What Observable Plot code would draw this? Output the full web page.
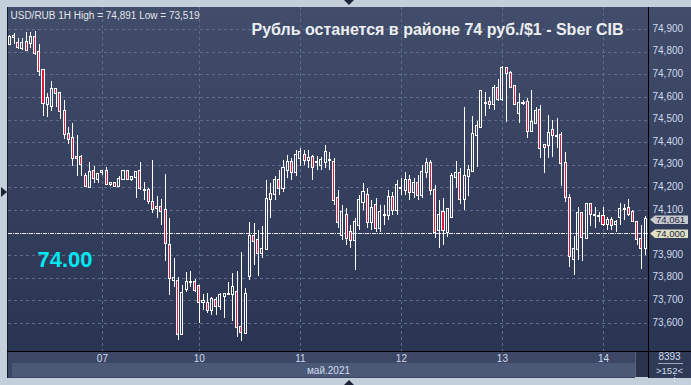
<!DOCTYPE html>
<html><head><meta charset="utf-8">
<script src="https://cdn.jsdelivr.net/npm/d3@7"></script>
<script src="https://cdn.jsdelivr.net/npm/@observablehq/plot@0.6"></script>
<style>
html,body{margin:0;padding:0;background:#c4cfdc;}
#wrap{position:relative;width:691px;height:385px;overflow:hidden;font-family:"Liberation Sans",Arial,sans-serif;}
#wrap .p{position:absolute;}
#chart{position:absolute;left:0;top:0;}
.tri{position:absolute;width:0;height:0;}
</style></head><body>
<div id="wrap">
  <div class="p" style="left:8px;top:7px;width:640px;height:344px;background:linear-gradient(to bottom,#414d6a,#2a3453);"></div>
  <div class="p" style="left:649px;top:7px;width:42px;height:344px;background:linear-gradient(to bottom,#414d6a,#2a3453);"></div>
  <div class="p" style="left:8px;top:352px;width:627px;height:26px;background:#3b4764;"></div>
  <div class="p" style="left:12px;top:363px;width:623px;height:14px;background:#4b5977;"></div>
  <div class="p" style="left:635px;top:352px;width:13px;height:25px;background:#2a344f;border-left:1px solid #56627c;box-sizing:border-box;"></div>
  <div class="p" style="left:649px;top:352px;width:42px;height:26px;background:#2f3a56;"></div>
  <div class="p" style="left:658px;top:363px;width:25px;height:1px;background:#9aa6bc;"></div>
  <div class="p" style="left:7px;top:7px;width:1px;height:371px;background:#161d2c;"></div>
  <div class="p" style="left:648px;top:7px;width:1px;height:371px;background:#000;"></div>
  <div class="p" style="left:7px;top:351px;width:684px;height:1px;background:#000;"></div>
  <div class="tri" style="left:344px;top:0px;border-left:5px solid transparent;border-right:5px solid transparent;border-top:5px solid #1c2538;"></div>
  <div class="tri" style="left:344px;top:380px;border-left:5px solid transparent;border-right:5px solid transparent;border-bottom:5px solid #1c2538;"></div>
  <div class="tri" style="left:1px;top:187px;border-top:5px solid transparent;border-bottom:5px solid transparent;border-left:6px solid #1c2538;"></div>
  <div id="chart"></div>
</div>
<script>
const open = [
74.834,74.867,74.837,74.816,74.842,74.840,74.864,74.797,74.719,74.569,
74.561,74.634,74.616,74.538,74.435,74.417,74.334,74.334,74.250,74.203,
74.273,74.238,74.268,74.272,74.216,74.220,74.206,74.235,74.272,74.235,
74.244,74.272,74.190,74.188,74.136,74.112,74.114,74.100,73.945,73.790,
73.785,73.550,73.749,73.779,73.780,73.763,73.694,73.689,73.657,73.701,
73.676,73.720,73.726,73.727,73.735,73.580,73.557,73.808,73.985,73.967,
73.908,73.926,74.147,74.170,74.232,74.197,74.277,74.312,74.268,74.330,
74.343,74.321,74.334,74.310,74.299,74.312,74.322,74.312,74.153,73.989,
74.077,74.002,73.967,74.033,74.135,74.166,74.046,74.122,74.020,74.078,
74.077,74.157,74.100,74.198,74.188,74.232,74.179,74.219,74.166,74.268,
74.308,74.188,74.011,74.089,74.004,74.070,74.247,74.262,74.147,74.250,
74.273,74.431,74.465,74.573,74.579,74.567,74.638,74.589,74.727,74.707,
74.648,74.530,74.574,74.576,74.450,74.486,74.542,74.387,74.387,74.454,
74.427,74.431,74.306,74.151,73.883,73.926,74.088,73.974,74.125,74.078,
74.075,74.074,74.036,74.055,74.036,74.067,74.103,74.107,74.089,74.048,
73.970,73.930];
const high = [
74.874,74.881,74.859,74.859,74.886,74.887,74.891,74.834,74.719,74.616,
74.670,74.634,74.618,74.586,74.465,74.483,74.431,74.343,74.262,74.313,
74.294,74.259,74.274,74.291,74.225,74.222,74.251,74.275,74.275,74.246,
74.273,74.311,74.222,74.197,74.321,74.161,74.148,74.259,74.063,73.886,
73.804,73.768,73.824,73.830,73.793,73.765,73.728,73.731,73.716,73.716,
73.731,73.734,73.780,73.822,73.830,73.912,73.756,74.048,74.043,74.011,
74.029,74.232,74.218,74.250,74.277,74.321,74.343,74.330,74.365,74.374,
74.365,74.365,74.343,74.338,74.334,74.387,74.356,74.330,74.188,74.122,
74.108,74.033,74.064,74.166,74.219,74.197,74.144,74.153,74.122,74.122,
74.188,74.179,74.232,74.241,74.268,74.254,74.241,74.254,74.299,74.330,
74.321,74.210,74.144,74.151,74.103,74.262,74.316,74.284,74.554,74.299,
74.515,74.495,74.631,74.623,74.601,74.653,74.678,74.738,74.734,74.716,
74.648,74.616,74.586,74.594,74.631,74.554,74.564,74.387,74.520,74.498,
74.505,74.446,74.357,74.170,73.985,74.114,74.092,74.132,74.125,74.114,
74.092,74.114,74.070,74.067,74.055,74.129,74.126,74.148,74.100,74.048,
74.033,74.073];
const low = [
74.830,74.834,74.812,74.807,74.804,74.816,74.787,74.694,74.517,74.512,
74.539,74.554,74.502,74.414,74.390,74.296,74.251,74.251,74.203,74.198,
74.220,74.218,74.254,74.210,74.205,74.204,74.205,74.233,74.232,74.228,
74.151,74.188,74.144,74.126,74.086,74.063,74.033,73.875,73.723,73.758,
73.524,73.548,73.738,73.760,73.738,73.601,73.657,73.642,73.635,73.635,
73.657,73.620,73.725,73.608,73.539,73.519,73.557,73.790,73.856,73.808,
73.886,73.926,74.063,74.144,74.166,74.179,74.241,74.232,74.250,74.294,
74.299,74.285,74.232,74.277,74.277,74.285,74.277,74.122,74.020,73.967,
73.945,73.931,73.834,74.011,74.100,74.020,74.011,74.002,74.002,74.033,
74.055,74.077,74.077,74.166,74.166,74.144,74.153,74.144,74.153,74.241,
74.166,73.976,73.931,73.945,73.981,74.066,74.198,74.126,74.100,74.163,
74.269,74.291,74.461,74.517,74.546,74.542,74.583,74.583,74.490,74.638,
74.564,74.486,74.564,74.417,74.446,74.486,74.328,74.262,74.328,74.335,
74.372,74.206,74.136,73.849,73.812,73.878,73.875,73.970,74.029,74.018,
74.048,74.029,74.011,74.011,74.004,74.033,74.055,74.074,74.045,73.945,
73.837,73.900];
const close = [
74.867,74.870,74.819,74.837,74.807,74.864,74.793,74.716,74.572,74.594,
74.634,74.616,74.538,74.435,74.412,74.328,74.328,74.302,74.207,74.269,
74.240,74.259,74.270,74.215,74.219,74.206,74.235,74.272,74.235,74.244,
74.268,74.196,74.188,74.139,74.104,74.108,74.096,73.955,73.797,73.800,
73.550,73.731,73.780,73.781,73.746,73.694,73.697,73.657,73.706,73.676,
73.723,73.728,73.727,73.761,73.583,73.561,73.728,73.985,73.962,73.908,
73.927,74.147,74.169,74.232,74.197,74.285,74.312,74.268,74.343,74.356,
74.321,74.330,74.290,74.312,74.321,74.356,74.320,74.144,74.046,74.091,
73.976,73.967,74.046,74.144,74.179,74.046,74.108,74.020,74.091,74.076,
74.157,74.100,74.210,74.196,74.232,74.179,74.219,74.166,74.268,74.308,
74.188,74.002,74.077,74.011,74.103,74.250,74.262,74.147,74.250,74.277,
74.436,74.471,74.626,74.575,74.569,74.641,74.589,74.727,74.707,74.645,
74.567,74.572,74.575,74.450,74.490,74.538,74.375,74.377,74.439,74.431,
74.429,74.306,74.156,73.897,73.926,74.088,73.981,74.125,74.082,74.076,
74.074,74.036,74.055,74.033,74.045,74.103,74.104,74.082,74.051,73.970,
73.933,74.061];

const dayTicks = [22, 45, 69, 93, 117, 141];
const dayLabels = ["07", "10", "11", "12", "13", "14"];
const yTicks = [73.6, 73.7, 73.8, 73.9, 74.0, 74.1, 74.2, 74.3, 74.4, 74.5, 74.6, 74.7, 74.8, 74.9];
const levelValue = 74.0;
const lastValue = close[close.length - 1];
const headerText = "USD/RUB 1H High = 74,891 Low = 73,519";
const titleText = "Рубль останется в районе 74 руб./$1 - Sber CIB";
const levelText = "74.00";
const monthText = "май.2021";
const barsText = "8393";
const visibleText = ">152<";

const candles = open.map((o, i) => ({i, open: o, high: high[i], low: low[i], close: close[i]}));
const bear = candles.filter(d => d.close < d.open);
const bull = candles.filter(d => d.close >= d.open);
const fmt = v => d3.format(".3f")(v).replace(".", ",");
// the level's own label sits in its box, so the axis skips it
const axisLabelTicks = yTicks.filter(t => Math.abs(t - levelValue) > 1e-9);

const RED = "#dc1a3c", WHITE = "#ffffff", GRID = "#5f6d8c", LABEL = "#cfdaee";

function priceBoxes(index, scales, values, dims) {
  const g = d3.create("svg:g");
  const x0 = dims.width - dims.marginRight;
  [{v: lastValue, fill: "#c5c9cf"}, {v: levelValue, fill: "#dedfc3"}].forEach(b => {
    const y = Math.round(scales.y(b.v)) + 0.5;
    g.append("path")
      .attr("d", `M${x0 + 2},${y} L${x0 + 7},${y - 4} H${x0 + 40} V${y + 4.5} H${x0 + 7} Z`)
      .attr("fill", b.fill);
    g.append("text").attr("x", x0 + 8).attr("y", y).attr("dy", "0.35em")
      .attr("fill", "#1d2740").attr("font-size", 9.5).attr("text-anchor", "start")
      .text(fmt(b.v));
  });
  return g.node();
}

const chart = Plot.plot({
  width: 691, height: 385,
  marginTop: 7, marginRight: 43, marginBottom: 34, marginLeft: 8,
  style: {background: "transparent", fontFamily: "Liberation Sans, Arial, sans-serif", overflow: "visible"},
  x: {type: "linear", domain: [-0.31, 151.69]},
  y: {type: "linear", domain: [73.4757, 74.9978]},
  marks: [
    Plot.ruleY(yTicks, {stroke: GRID, strokeDasharray: "3,3", shapeRendering: "crispEdges"}),
    Plot.ruleX(dayTicks, {stroke: GRID, strokeDasharray: "3,3", shapeRendering: "crispEdges"}),
    Plot.ruleY([levelValue], {stroke: "#e6e6e6", strokeDasharray: "4,1,1,1", shapeRendering: "crispEdges"}),
    Plot.ruleX(candles, {x: "i", y1: "high", y2: d => Math.max(d.open, d.close), stroke: WHITE, shapeRendering: "crispEdges"}),
    Plot.ruleX(candles, {x: "i", y1: d => Math.min(d.open, d.close), y2: "low", stroke: WHITE, shapeRendering: "crispEdges"}),
    Plot.rect(bear, {x1: d => d.i - 0.24, x2: d => d.i + 0.24, y1: "open", y2: "close", fill: RED, stroke: WHITE, insetTop: -0.5, insetBottom: -0.5, shapeRendering: "crispEdges"}),
    Plot.rect(bull, {x1: d => d.i - 0.24, x2: d => d.i + 0.24, y1: "open", y2: "close", fill: "none", stroke: WHITE, insetTop: -0.5, insetBottom: -0.5, shapeRendering: "crispEdges"}),
    Plot.axisY({anchor: "right", ticks: axisLabelTicks, tickFormat: fmt, tickSize: 0, tickPadding: 4, fill: LABEL, fontSize: 10, textAnchor: "start", dy: -1}),
    Plot.axisX({anchor: "bottom", ticks: dayTicks, tickFormat: d => dayLabels[dayTicks.indexOf(d)], tickSize: 0, tickPadding: 3, fill: LABEL, fontSize: 10}),
    priceBoxes,
    Plot.text([headerText], {frameAnchor: "top-left", dx: 2, dy: 8, textAnchor: "start", lineAnchor: "middle", fill: "#e4e6ea", fontSize: 10}),
    Plot.text([titleText], {frameAnchor: "top-right", dx: -25, dy: 22, textAnchor: "end", lineAnchor: "middle", fill: "#eceef2", fontSize: 16, fontWeight: "bold"}),
    Plot.text([levelText], {frameAnchor: "top-left", dx: 29, dy: 252, textAnchor: "start", lineAnchor: "middle", fill: "#00e8f2", fontSize: 22, fontWeight: "bold"}),
    Plot.text([monthText], {frameAnchor: "bottom", dy: 19, lineAnchor: "middle", fill: LABEL, fontSize: 10}),
    Plot.text([barsText], {frameAnchor: "bottom-right", dx: 21, dy: 5, textAnchor: "middle", lineAnchor: "middle", fill: LABEL, fontSize: 10}),
    Plot.text([visibleText], {frameAnchor: "bottom-right", dx: 21, dy: 19, textAnchor: "middle", lineAnchor: "middle", fill: LABEL, fontSize: 9.5})
  ]
});
document.getElementById("chart").appendChild(chart);
</script>
</body></html>
